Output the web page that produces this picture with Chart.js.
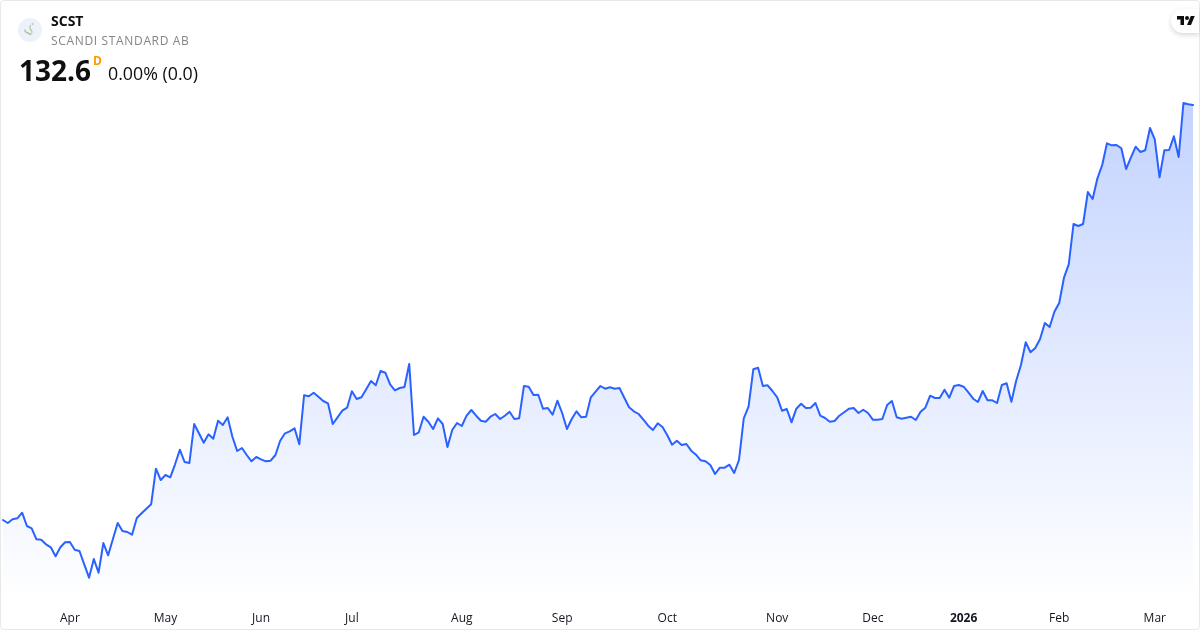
<!DOCTYPE html>
<html>
<head>
<meta charset="utf-8">
<title>SCST</title>
<script src="https://cdn.jsdelivr.net/npm/chart.js@4"></script>
<style>
  html, body { margin: 0; padding: 0; background: #fff; }
  body { width: 1200px; height: 630px; overflow: hidden; position: relative; font-family: "Open Sans", sans-serif; color: #0f0f0f; }
  #forecast { position: absolute; left: 0; top: 0; }
  #frame { position: absolute; left: 0; top: 0; width: 1198px; height: 628px; border: 1px solid #e8e8e8; border-radius: 4px; pointer-events: none; }
  .txt { position: absolute; white-space: nowrap; line-height: 1; }
  #sym { left: 51px; top: 14px; font-size: 14px; font-weight: 700; }
  #name { left: 51px; top: 35px; font-size: 12px; color: #858585; letter-spacing: 0.66px; }
  #price { left: 19px; top: 56px; font-size: 28px; font-weight: 700; }
  #res { left: 93px; top: 55px; font-size: 12px; font-weight: 700; color: #ff9800; }
  #chg { left: 108px; top: 65px; font-size: 17.8px; }
  #logo { position: absolute; left: 18px; top: 18px; }
  #tv { position: absolute; left: 1171px; top: 9px; width: 28px; height: 24px; background: #fff; border-radius: 12px 0 0 12px; box-shadow: 0 2px 5px rgba(0,0,0,0.16); }
  #tv svg { position: absolute; left: 6px; top: 5px; }
</style>
</head>
<body>
<canvas id="forecast" width="1200" height="630"></canvas>
<div id="frame"></div>

<svg id="logo" width="24" height="24" viewBox="0 0 24 24">
  <circle cx="12" cy="12" r="12" fill="#edf1f9"/>
  <path d="M7 12c-.5 1.500 .5 2 1.500 2.500s3 .5 3.500 2" fill="none" stroke="#a8b98e" stroke-width="1.300" stroke-linecap="round"/>
  <path d="M12.500 7.500c-1 1.500 -1 3 .5 4.500s1.500 3 -.5 4.500" fill="none" stroke="#b9c6a4" stroke-width="1.100" stroke-linecap="round"/>
  <circle cx="14.500" cy="6" r="1" fill="#b9c6a4"/>
</svg>
<div class="txt" id="sym">SCST</div>
<div class="txt" id="name">SCANDI STANDARD AB</div>
<div class="txt" id="price">132.6</div>
<div class="txt" id="res">D</div>
<div class="txt" id="chg">0.00% (0.0)</div>
<div id="tv">
  <svg width="18" height="14" viewBox="0 0 36 28"><path fill="#0f0f0f" d="M14 22H7V11H0V4h14v18zM28 22h-8l7.500-18h8L28 22z"/><circle cx="20" cy="8" r="4" fill="#0f0f0f"/></svg>
</div>

<script>
// daily closes
const closes = [
  91.10, 90.80, 91.17, 91.27, 91.83, 90.50, 90.27, 89.17, 89.13, 88.67,
  88.37, 87.47, 88.37, 88.87, 88.90, 88.13, 88.00, 86.67, 85.33, 87.20,
  85.83, 88.80, 87.57, 89.20, 90.80, 90.00, 89.90, 89.63, 91.30, 91.77,
  92.23, 92.67, 96.23, 95.10, 95.60, 95.37, 96.67, 98.13, 96.90, 96.80,
  100.70, 99.77, 98.83, 99.67, 99.23, 101.03, 100.60, 101.37, 99.43, 98.00,
  98.30, 97.60, 96.97, 97.40, 97.17, 96.97, 97.03, 97.60, 99.03, 99.77,
  99.97, 100.27, 98.67, 103.57, 103.47, 103.83, 103.43, 103.00, 102.77, 100.70,
  101.37, 102.03, 102.33, 103.97, 103.20, 103.37, 104.17, 105.00, 104.57, 106.00,
  105.83, 104.67, 104.07, 104.30, 104.40, 106.70, 99.60, 99.87, 101.43, 100.93,
  100.20, 101.27, 100.70, 98.40, 100.10, 100.80, 100.50, 101.53, 102.10, 101.53,
  101.03, 100.93, 101.43, 101.70, 101.20, 101.53, 101.93, 101.20, 101.27, 104.50,
  104.43, 103.60, 103.63, 102.23, 102.30, 101.63, 103.03, 101.80, 100.20, 101.20,
  101.97, 101.37, 101.43, 103.37, 103.93, 104.50, 104.23, 104.37, 104.23, 104.30,
  103.33, 102.37, 101.97, 101.70, 101.13, 100.53, 100.10, 100.77, 100.40, 99.57,
  98.63, 99.03, 98.60, 98.70, 98.03, 97.63, 97.07, 96.97, 96.60, 95.70,
  96.33, 96.33, 96.63, 95.80, 97.10, 101.27, 102.43, 106.17, 106.33, 104.50,
  104.57, 104.00, 103.37, 102.03, 102.20, 100.87, 102.23, 102.73, 102.30, 102.33,
  102.80, 101.53, 101.30, 100.93, 101.00, 101.53, 101.87, 102.23, 102.30, 101.80,
  102.13, 101.80, 101.13, 101.13, 101.20, 102.60, 103.00, 101.37, 101.23, 101.33,
  101.43, 101.10, 101.93, 102.33, 103.53, 103.30, 103.30, 104.13, 103.33, 104.50,
  104.60, 104.43, 103.87, 103.23, 102.90, 104.00, 103.07, 103.07, 102.80, 104.60,
  104.77, 102.93, 105.03, 106.60, 108.87, 107.87, 108.30, 109.20, 110.80, 110.40,
  111.93, 112.80, 115.33, 116.67, 120.70, 120.50, 120.70, 123.90, 123.20, 125.27,
  126.60, 128.77, 128.57, 128.60, 128.27, 126.20, 127.33, 128.43, 127.90, 128.07,
  130.30, 129.17, 125.37, 128.07, 128.10, 129.47, 127.40, 132.80, 132.67, 132.60
];

// first trading day shown for each month on the time axis
const monthLabels = ['Apr', 'May', 'Jun', 'Jul', 'Aug', 'Sep', 'Oct', 'Nov', 'Dec', '2026', 'Feb', 'Mar'];
const monthIndex = [14, 34, 54, 73, 96, 117, 139, 162, 182, 201, 221, 241];

const yMin = 83.1;
const yMax = 143.1;

const labels = closes.map((_, i) => {
  const m = monthIndex.indexOf(i);
  return m >= 0 ? monthLabels[m] : '';
});

// area gradient runs from the highest close down to the bottom of the pane
function areaFill(context) {
  const { chart } = context;
  if (!chart.chartArea) return 'rgba(41, 98, 255, 0.1)';
  const top = chart.scales.y.getPixelForValue(Math.max(...closes));
  const g = chart.ctx.createLinearGradient(0, top, 0, chart.chartArea.bottom);
  g.addColorStop(0, 'rgba(41, 98, 255, 0.28)');
  g.addColorStop(1, 'rgba(41, 98, 255, 0)');
  return g;
}

new Chart(document.getElementById('forecast').getContext('2d'), {
  type: 'line',
  data: {
    labels: labels,
    datasets: [{
      data: closes,
      borderColor: '#2962ff',
      borderWidth: 2,
      borderJoinStyle: 'round',
      borderCapStyle: 'round',
      backgroundColor: areaFill,
      fill: 'start',
      tension: 0,
      pointRadius: 0
    }]
  },
  options: {
    responsive: false,
    animation: false,
    layout: { autoPadding: false, padding: { left: 3, right: 7, top: 0, bottom: 0 } },
    plugins: { legend: { display: false }, tooltip: { enabled: false } },
    scales: {
      x: {
        grid: { display: false },
        border: { display: false },
        afterFit: scale => { scale.height = 30; scale.paddingLeft = 0; scale.paddingRight = 0; },
        ticks: {
          autoSkip: false,
          maxRotation: 0,
          padding: 3,
          color: '#131722',
          font: ctx => ({
            family: '"Open Sans", sans-serif',
            size: 12,
            weight: ctx.tick && ctx.tick.label === '2026' ? '700' : '400'
          })
        }
      },
      y: { display: false, min: yMin, max: yMax }
    }
  }
});
</script>
</body>
</html>
